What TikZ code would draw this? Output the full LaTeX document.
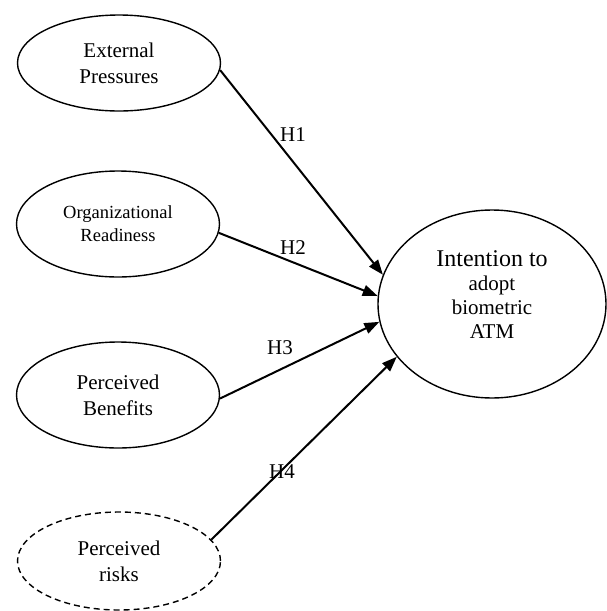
\documentclass[tikz,border=0pt]{standalone}
\usepackage{fontspec}
\setmainfont{Liberation Serif}
\usetikzlibrary{shapes.geometric,arrows.meta}

\begin{document}
\begin{tikzpicture}[x=1pt, y=-1pt,
        construct/.style={ellipse, draw, line width=1.4pt, inner sep=0, align=center,
            minimum width=203, minimum height=96, font=\fontsize{21}{26}\selectfont},
        hyp/.style={-{Triangle[length=15pt, width=11pt]}, line width=2pt},
        hlabel/.style={inner sep=0, font=\fontsize{21}{21}\selectfont}]
    \useasboundingbox (0,0) rectangle (607,611);
    % constructs
    \node[construct] (ext) at (119,63) {External\\Pressures};
    \node[construct, minimum height=106, font=\fontsize{18.5}{23}\selectfont] (org) at (118,224) {Organizational\\Readiness};
    \node[construct, minimum height=106] (ben) at (118,395) {Perceived\\Benefits};
    \node[construct, dashed, dash pattern=on 6pt off 4pt, minimum height=98] (risk) at (119,561) {Perceived\\risks};
    \node[construct, minimum width=228, minimum height=188, font=\fontsize{21}{24}\selectfont] (int) at (492,304)
        {{\fontsize{24}{24}\selectfont Intention to}\\adopt\\biometric\\ATM\\[-6pt]};
    % hypotheses
    \draw[hyp] (ext.-4) -- (int.165);
    \draw[hyp] (org.-5) -- (int.176);
    \draw[hyp] (ben.-2) -- (int.189);
    \draw[hyp] (risk.13) -- (int.209);
    \node[hlabel] (h1) at (293,135) {H1};
    \node[hlabel] (h2) at (293,248) {H2};
    \node[hlabel] (h3) at (280,348) {H3};
    \node[hlabel] (h4) at (282,472) {H4};
\end{tikzpicture}
\end{document}
